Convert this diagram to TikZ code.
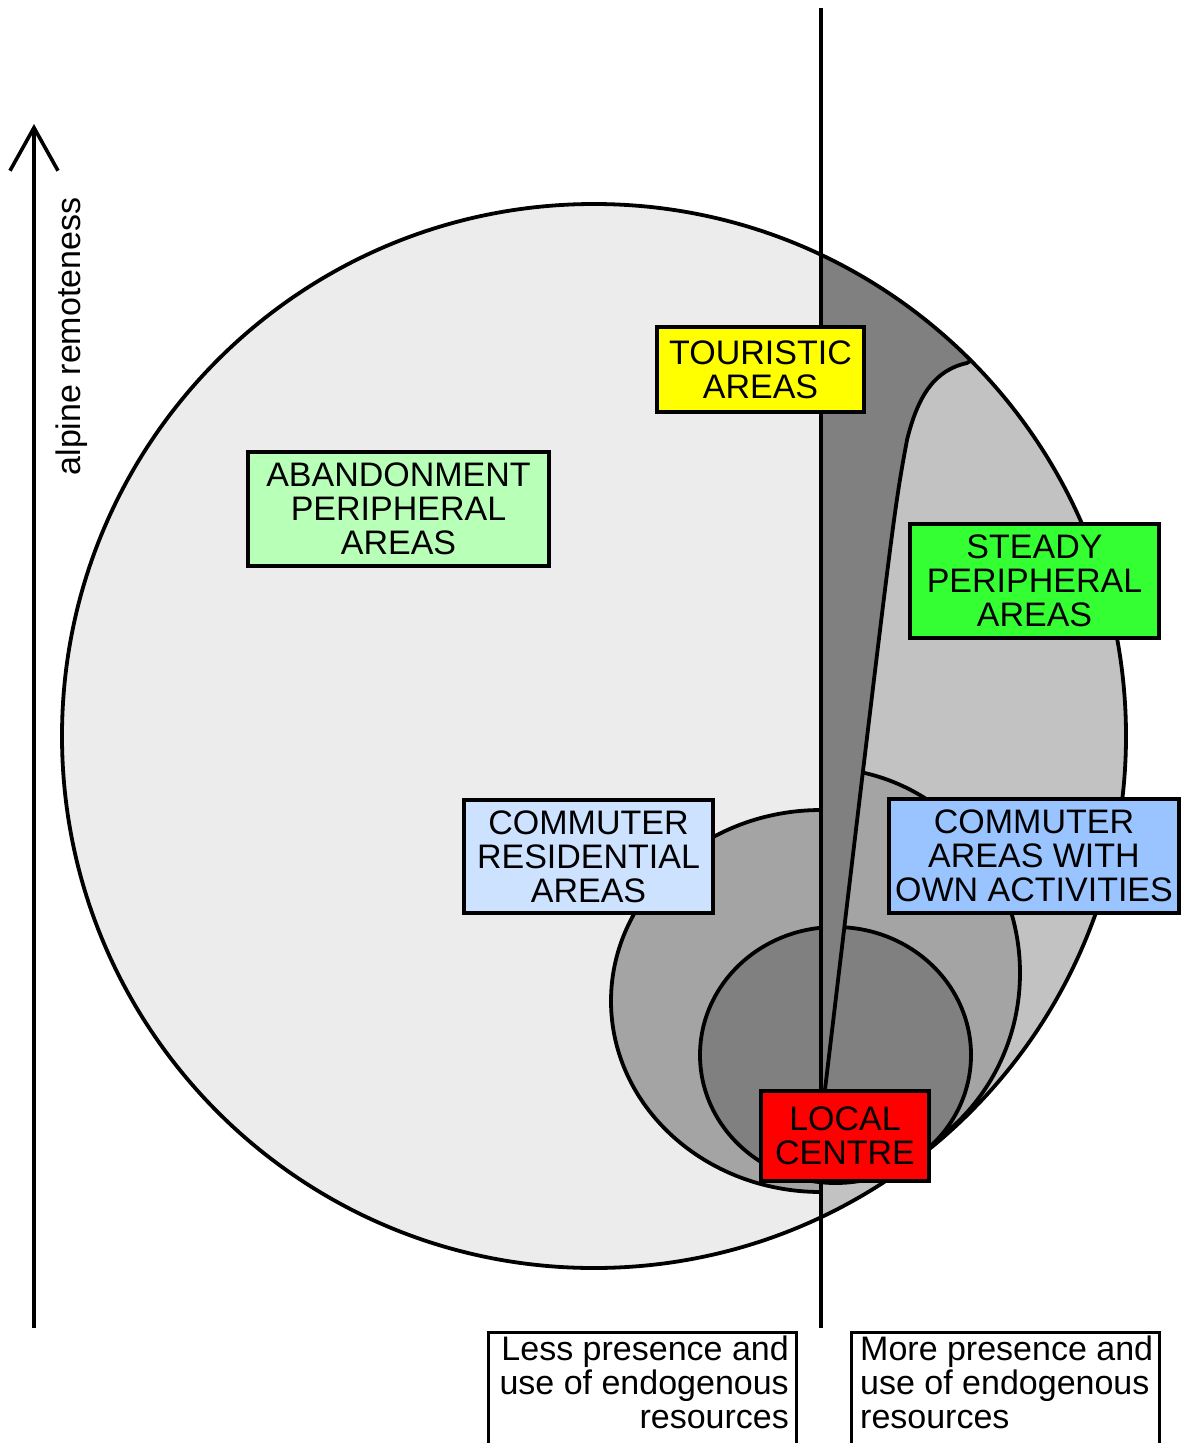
\documentclass[tikz,border=0pt]{standalone}
\usepackage{fontspec}
\setmainfont{Liberation Sans}
\usetikzlibrary{arrows.meta}
\definecolor{cA}{HTML}{ECECEC}
\definecolor{cB}{HTML}{C2C2C2}
\definecolor{cC}{HTML}{A4A4A4}
\definecolor{cD}{HTML}{808080}
\definecolor{yel}{HTML}{FFFF00}
\definecolor{lgreen}{HTML}{B8FFB8}
\definecolor{sgreen}{HTML}{33FF33}
\definecolor{lblue}{HTML}{CCE2FF}
\definecolor{mblue}{HTML}{99C4FF}
\definecolor{red}{HTML}{FF0000}
\begin{document}
\begin{tikzpicture}[x=1pt,y=-1pt,
  outl/.style={line width=3.8pt, draw=black},
  areabox/.style={draw=black, line width=3.8pt, font=\fontsize{34}{34}\selectfont,
    align=center, inner sep=0pt},
  plain/.style={font=\fontsize{34}{34}\selectfont, inner sep=0pt}]
\useasboundingbox (0,0) rectangle (1181,1443);
% big circle
\fill[cA] (594,736) circle (532);
\begin{scope}
  \clip (594,736) circle (532);
  \fill[cB] (821,0) rectangle (1200,1400);
  \begin{scope}
    \clip (0,0) rectangle (821,1400);
    \filldraw[fill=cC, outl] (821,1001) ellipse (210 and 191);
  \end{scope}
  \begin{scope}
    \clip (821,0) rectangle (1200,1400);
    \filldraw[fill=cC, outl] (821,973) ellipse (199 and 205);
  \end{scope}
  \filldraw[fill=cD, outl] (835.5,1055) ellipse (135.5 and 128);
  \fill[cD] (821,200) -- (1010,200) -- (1010,340) -- (975,358) -- (967,363)
     .. controls (935,370) and (918,395) .. (907,440)
     .. controls (894,510) .. (824,1098) -- (821,1098) -- cycle;
  \draw[outl] (975,358) -- (967,363)
     .. controls (935,370) and (918,395) .. (907,440)
     .. controls (894,510) .. (824,1098);
\end{scope}
\draw[line width=3.8pt] (594,736) circle (532);
% divider
\coordinate (dtop) at (821,8);
\coordinate (dbot) at (821,1328);
\draw[line width=3.6pt] (dtop) -- (dbot);
% axis arrow
\coordinate (abot) at (34,1328);
\coordinate (atop) at (34,124);
\draw[line width=3.6pt, -{Straight Barb[length=43pt,width=48pt,line width=3.6pt]}] (abot) -- (atop);
\node[plain, rotate=90, anchor=base] (remote) at (80,336.5) {alpine remoteness};
% area boxes
\node[areabox, fill=yel, minimum width=207pt, minimum height=85pt] (tour) at (760.5,369.5) {TOURISTIC\\AREAS};
\node[areabox, fill=lgreen, minimum width=301pt, minimum height=114pt] (aband) at (398.5,509) {ABANDONMENT\\PERIPHERAL\\AREAS};
\node[areabox, fill=sgreen, minimum width=249pt, minimum height=114pt] (steady) at (1034.5,581) {STEADY\\PERIPHERAL\\AREAS};
\node[areabox, fill=lblue, minimum width=249pt, minimum height=113pt] (comres) at (588.5,856.5) {COMMUTER\\RESIDENTIAL\\AREAS};
\node[areabox, fill=mblue, minimum width=290pt, minimum height=114pt] (comown) at (1034,856) {COMMUTER\\AREAS WITH\\OWN ACTIVITIES};
\node[areabox, fill=red, minimum width=168pt, minimum height=90pt] (local) at (845,1136) {LOCAL\\CENTRE};
% bottom boxes
\draw[outl] (488.5,1460) -- (488.5,1332.5) -- (796.5,1332.5) -- (796.5,1460);
\draw[outl] (851.5,1460) -- (851.5,1332.5) -- (1159.5,1332.5) -- (1159.5,1460);
\node[plain, align=right, anchor=north east] (less) at (789,1336) {Less presence and\\use of endogenous\\resources};
\node[plain, align=left, anchor=north west] (more) at (860,1336) {More presence and\\use of endogenous\\resources};
\end{tikzpicture}
\end{document}
